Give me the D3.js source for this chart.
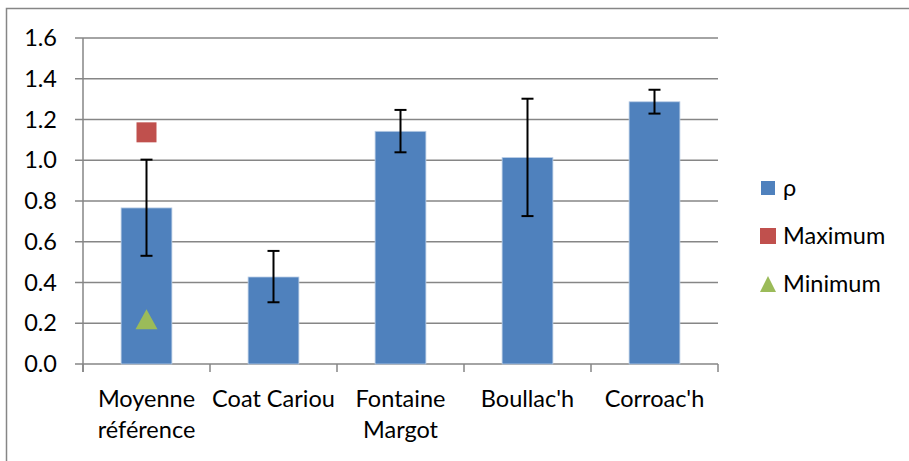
<!DOCTYPE html>
<html><head><meta charset="utf-8">
<script src="https://cdn.jsdelivr.net/npm/d3@7"></script>
<style>body{margin:0;background:#fff}svg{display:block}text{font-family:Lato,"Noto Sans",sans-serif;fill:#000}</style>
</head><body>
<svg id="c" width="909" height="461"></svg>
<script>
const categories = [["Moyenne","référence"],["Coat Cariou"],["Fontaine","Margot"],["Boullac'h"],["Corroac'h"]];
const rho = [0.766, 0.427, 1.142, 1.013, 1.287];
const errLow = [0.531, 0.303, 1.039, 0.726, 1.229];
const errHigh = [1.003, 0.555, 1.247, 1.302, 1.346];
const maximum = [1.137, null, null, null, null];
const minimum = [0.22, null, null, null, null];
const yTicks = [0, 0.2, 0.4, 0.6, 0.8, 1.0, 1.2, 1.4, 1.6];
const legendLabels = ["ρ", "Maximum", "Minimum"];

(function () {
const svg = d3.select("#c");
const FS = 23.5;
const pL = 83, pR = 718, pT = 38, pB = 364;
const keys = categories.map((c, i) => i);
const x = d3.scaleBand().domain(keys).range([pL, pR]).padding(0);
const y = d3.scaleLinear().domain([0, 1.6]).range([pB, pT]);
const grid = "#868686";

// outer border
svg.append("path").attr("d", "M6.5,470 V8.5 H920").attr("fill", "none").attr("stroke", grid).attr("stroke-width", 1.5);

// gridlines
svg.append("g").selectAll("line").data(yTicks).join("line")
  .attr("x1", 75).attr("x2", pR).attr("y1", d => y(d)).attr("y2", d => y(d))
  .attr("stroke", grid).attr("stroke-width", 1.5);

// y axis
const yAxis = svg.append("g").attr("transform", `translate(${pL},0)`)
  .call(d3.axisLeft(y).tickValues(yTicks).tickFormat(d3.format(".1f")).tickSize(0).tickPadding(26));
yAxis.select(".domain").remove();
yAxis.selectAll("text").attr("font-size", FS).attr("font-family", "Lato, 'Noto Sans', sans-serif").attr("fill", "#000");
svg.append("line").attr("x1", pL).attr("x2", pL).attr("y1", pT).attr("y2", pB + 8).attr("stroke", grid).attr("stroke-width", 1.5);

// x axis
const xAxis = svg.append("g").attr("transform", `translate(0,${pB})`)
  .call(d3.axisBottom(x).tickSize(0).tickFormat(""));
xAxis.select(".domain").remove();
const bounds = keys.map(k => x(k)).concat([pR]);
svg.append("g").selectAll("line").data(bounds).join("line")
  .attr("x1", d => d).attr("x2", d => d).attr("y1", pB).attr("y2", pB + 8)
  .attr("stroke", grid).attr("stroke-width", 1.5);

// category labels
const lab = svg.append("g").selectAll("text").data(categories).join("text")
  .attr("text-anchor", "middle").attr("font-size", FS);
lab.each(function(d, i) {
  const t = d3.select(this);
  d.forEach((line, j) => {
    t.append("tspan").attr("x", x(i) + x.bandwidth() / 2).attr("y", 407 + j * 31).text(line);
  });
});

// bars
const bw = x.bandwidth() * 0.4;
svg.append("g").selectAll("rect").data(rho).join("rect")
  .attr("x", (d, i) => x(i) + x.bandwidth() / 2 - bw / 2)
  .attr("width", bw)
  .attr("y", d => y(d)).attr("height", d => pB - y(d))
  .attr("fill", "#4F81BD").attr("stroke", "#b9cde5").attr("stroke-width", 0.8);

// error bars
const eg = svg.append("g").attr("stroke", "#000").attr("stroke-width", 2);
rho.forEach((v, i) => {
  const cx = x(i) + x.bandwidth() / 2;
  eg.append("line").attr("x1", cx).attr("x2", cx).attr("y1", y(errLow[i])).attr("y2", y(errHigh[i]));
  eg.append("line").attr("x1", cx - 6).attr("x2", cx + 6).attr("y1", y(errLow[i])).attr("y2", y(errLow[i]));
  eg.append("line").attr("x1", cx - 6).attr("x2", cx + 6).attr("y1", y(errHigh[i])).attr("y2", y(errHigh[i]));
});

// markers
const sq = d3.symbol().type(d3.symbolSquare).size(400);
svg.append("g").selectAll("path").data(maximum.map((v, i) => [v, i]).filter(d => d[0] != null)).join("path")
  .attr("d", sq).attr("transform", d => `translate(${x(d[1]) + x.bandwidth() / 2},${y(d[0])})`)
  .attr("fill", "#C0504D");
svg.append("g").selectAll("path").data(minimum.map((v, i) => [v, i]).filter(d => d[0] != null)).join("path")
  .attr("d", "M0,-10 L11,10 L-11,10 Z").attr("transform", d => `translate(${x(d[1]) + x.bandwidth() / 2},${y(d[0])})`)
  .attr("fill", "#9BBB59");

// legend
const lg = svg.append("g");
const ly = [188, 236, 284];
lg.append("rect").attr("x", 761).attr("y", ly[0] - 7).attr("width", 14).attr("height", 14).attr("fill", "#4F81BD");
lg.append("rect").attr("x", 760).attr("y", ly[1] - 8).attr("width", 16).attr("height", 16).attr("fill", "#C0504D");
lg.append("path").attr("d", `M768,${ly[2] - 8} L776,${ly[2] + 8} L760,${ly[2] + 8} Z`).attr("fill", "#9BBB59");
lg.selectAll("text").data(legendLabels).join("text")
  .attr("x", 783).attr("y", (d, i) => ly[i]).attr("dy", "0.35em").attr("font-size", FS).text(d => d);
})();
</script>
</body></html>
